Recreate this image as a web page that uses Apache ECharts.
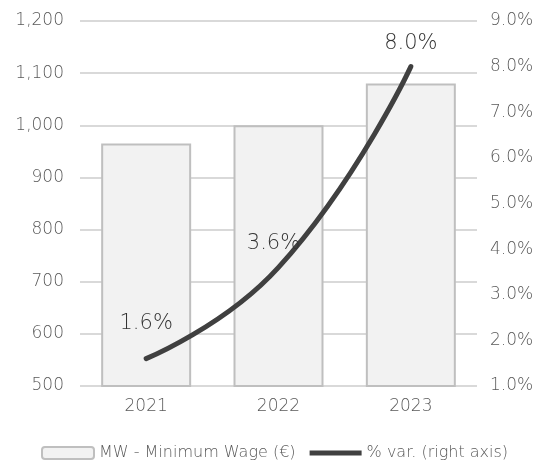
<!DOCTYPE html>
<html>
<head>
<meta charset="utf-8">
<script src="https://cdn.jsdelivr.net/npm/echarts@6/dist/echarts.min.js"></script>
<style>
  html, body { margin: 0; padding: 0; background: #fff; }
  #chart { width: 539px; height: 468px; }
</style>
</head>
<body>
<div id="chart"></div>
<script>
const years = ["2021", "2022", "2023"];
const minWage = [965, 1000, 1080];
const pctVar = [1.6, 3.6, 8.0];
// label distances above the line points, as in the reference
const labelDist = [25, 13, 13];
const labelShift = [0, -5, 0];

const font = "'DejaVu Sans', sans-serif";
const chart = echarts.init(document.getElementById("chart"));

const option = {
  animation: false,
  grid: { left: 80, right: 62, top: 21, bottom: 82 },
  legend: {
    bottom: 2,
    left: 36,
    itemWidth: 52,
    itemHeight: 12,
    itemGap: 14,
    textStyle: { fontFamily: font, fontSize: 16, color: "#595959", fontWeight: 200 },
    data: [
      "MW - Minimum Wage (€)",
      { name: "% var. (right axis)", icon: "path://M0,0 L52,0 L52,5 L0,5 Z", itemStyle: { color: "#404040" } },
    ],
  },
  xAxis: {
    type: "category",
    data: years,
    axisLine: { show: false },
    axisTick: { show: false },
    axisLabel: { fontFamily: font, fontSize: 17, color: "#595959", fontWeight: 200, margin: 12 },
  },
  yAxis: [
    {
      type: "value",
      min: 500,
      max: 1200,
      interval: 100,
      axisLabel: {
        fontFamily: font,
        fontSize: 17,
        color: "#595959",
        fontWeight: 200,
        margin: 16,
        formatter: (v) => v.toLocaleString("en-US"),
      },
      splitLine: { lineStyle: { color: "#d9d9d9", width: 2 } },
    },
    {
      type: "value",
      min: 1,
      max: 9,
      interval: 1,
      axisLabel: {
        fontFamily: font,
        fontSize: 17,
        color: "#595959",
        fontWeight: 200,
        margin: 13,
        formatter: (v) => v.toFixed(1) + "%",
      },
      splitLine: { show: false },
    },
  ],
  series: [
    {
      name: "MW - Minimum Wage (€)",
      type: "bar",
      data: minWage,
      barWidth: "68%",
      itemStyle: { color: "#f2f2f2", borderColor: "#bfbfbf", borderWidth: 2 },
    },
    {
      name: "% var. (right axis)",
      type: "line",
      yAxisIndex: 1,
      data: pctVar.map((v, i) => ({
        value: v,
        label: { distance: labelDist[i], offset: [labelShift[i], 0] },
      })),
      smooth: 0.5,
      showSymbol: true,
      symbol: "circle",
      symbolSize: 0.1,
      lineStyle: { color: "#404040", width: 5, cap: "round" },
      itemStyle: { color: "#404040" },
      label: {
        show: true,
        position: "top",
        fontFamily: font,
        fontSize: 21,
        color: "#333333",
        fontWeight: 200,
        formatter: (p) => p.value.toFixed(1) + "%",
      },
    },
  ],
};
chart.setOption(option);
</script>
</body>
</html>
